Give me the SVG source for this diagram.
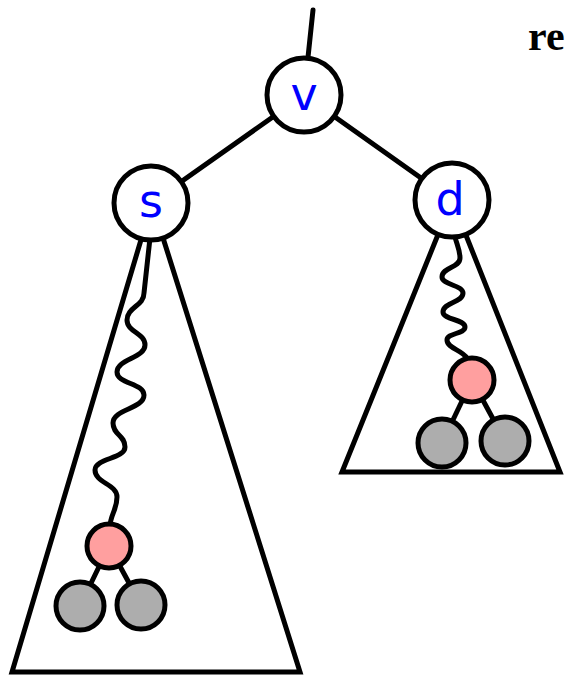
<svg xmlns="http://www.w3.org/2000/svg" width="569" height="675" viewBox="0 0 569 675">
<style>
.ln{stroke:#000;stroke-width:5;fill:none;stroke-linecap:round;stroke-linejoin:round}
.tri{stroke:#000;stroke-width:5;fill:none;stroke-linejoin:miter}
.nd{fill:#fff;stroke:#000;stroke-width:5}
.red{fill:#ff9f9f;stroke:#000;stroke-width:5}
.gray{fill:#adadad;stroke:#000;stroke-width:5}
.lbl{font-family:"DejaVu Sans","Liberation Sans",sans-serif;font-size:46px;fill:#0000ff;text-anchor:middle}
</style>
<rect width="569" height="675" fill="#fff"/>
<g id="connectors">
<line class="ln" x1="313" y1="10" x2="304" y2="95"/>
<line class="ln" x1="304" y1="95" x2="151" y2="203"/>
<line class="ln" x1="304" y1="95" x2="452" y2="200"/>
<polygon class="tri" points="152,203 12,672 300,672"/>
<polygon class="tri" points="452,200 342,472 560,472"/>
<path class="ln" d="M150,238 L144,293 C144,306 127,307 127,320 C127,332 145,333 145,345 C145,358 117,359 117,372 C117,384 144,383 144,395 C144,409 113,409 113,423 C113,435 125,435 125,447 C125,459 95,458 95,470 C95,483 117,484 117,497 C117,510 110,515 110,527"/>
<path class="ln" d="M455,237 C457,245 460,250 460,258 C460,268 442,267 442,277 C442,285 463,285 463,293 C463,303 443,302 443,312 C443,320 465,319 465,327 C465,334 447,333 447,340 C447,348 462,350 467,358"/>
<line class="ln" x1="109" y1="546" x2="80" y2="606"/>
<line class="ln" x1="109" y1="546" x2="141" y2="605"/>
<line class="ln" x1="472" y1="380" x2="442" y2="443"/>
<line class="ln" x1="472" y1="380" x2="505" y2="441"/>
</g>
<g id="node-v"><circle class="nd" cx="304" cy="95" r="37"/><text class="lbl" x="304" y="110">v</text></g>
<g id="node-s"><circle class="nd" cx="151" cy="203" r="37"/><text class="lbl" x="151" y="217">s</text></g>
<g id="node-d"><circle class="nd" cx="452" cy="200" r="37"/><text class="lbl" x="450" y="215">d</text></g>
<g id="node-red-left"><circle class="red" cx="109" cy="546" r="22"/></g>
<g id="node-gray-left-1"><circle class="gray" cx="80" cy="606" r="24"/></g>
<g id="node-gray-left-2"><circle class="gray" cx="141" cy="605" r="24"/></g>
<g id="node-red-right"><circle class="red" cx="472" cy="380" r="22"/></g>
<g id="node-gray-right-1"><circle class="gray" cx="442" cy="443" r="24"/></g>
<g id="node-gray-right-2"><circle class="gray" cx="505" cy="441" r="24"/></g>
<text x="528" y="50" font-family="Liberation Serif,serif" font-weight="bold" font-size="42">re</text>
</svg>
